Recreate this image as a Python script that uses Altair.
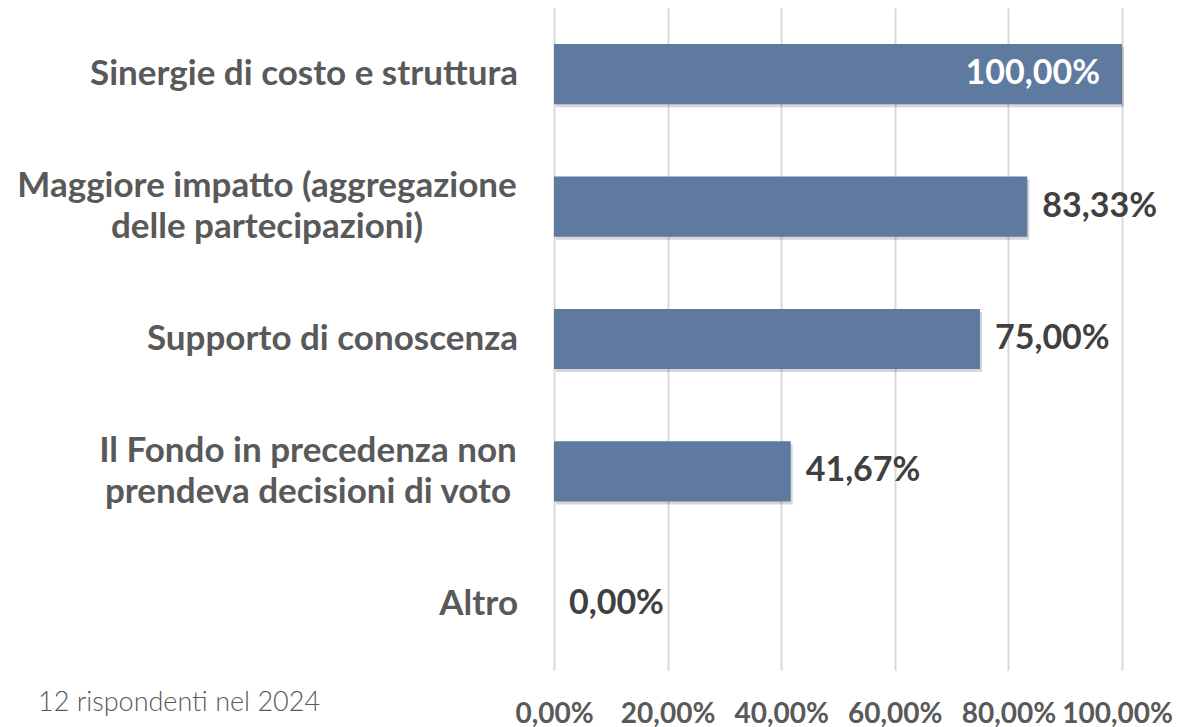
import altair as alt
import pandas as pd

categories = [
    "Sinergie di costo e struttura",
    "Maggiore impatto (aggregazione\ndelle partecipazioni)",
    "Supporto di conoscenza",
    "Il Fondo in precedenza non\nprendeva decisioni di voto",
    "Altro",
]
values = [100.0, 83.33, 75.0, 41.67, 0.0]
value_labels = ["100,00%", "83,33%", "75,00%", "41,67%", "0,00%"]
tick_values = [0, 20, 40, 60, 80, 100]
tick_labels = ["0,00%", "20,00%", "40,00%", "60,00%", "80,00%", "100,00%"]
footnote = "12 rispondenti nel 2024"

df = pd.DataFrame({
    "cat": categories,
    "val": values,
    "lab": value_labels,
    "inside": [v >= 95 for v in values],
    "multi": ["\n" in c for c in categories],
})

FONT = "Lato"
BAR = "#5e7a9f"

label_expr = "[" + ",".join(f"'{t}'" for t in tick_labels) + "][indexof([" + ",".join(str(v) for v in tick_values) + "], datum.value)]"

x = alt.X("val:Q", scale=alt.Scale(domain=[0, 100]),
          axis=alt.Axis(values=tick_values, labelExpr=label_expr, title=None,
                        grid=True, gridColor="#d9d9d9", gridWidth=2,
                        domain=False, ticks=False, tickSize=0,
                        labelFont=FONT, labelFontSize=28, labelFontWeight="bold",
                        labelColor="#595959", labelPadding=30,
                        labelOffset={"condition": {"test": "datum.value == 100", "value": -5}, "value": 0},
                        labelFlush=False, labelOverlap=False))
ycat = alt.Y("cat:N", sort=categories,
             scale=alt.Scale(paddingInner=0.545, paddingOuter=0.2725),
             axis=None)

base = alt.Chart(df)

shadow = base.transform_filter("datum.val > 0").mark_bar(
    color="#000000", opacity=0.16, xOffset=2, yOffset=3).encode(x=x, y=ycat)
bars = base.mark_bar(color=BAR).encode(x=x, y=ycat)

out_lab = base.transform_filter("!datum.inside").mark_text(
    align="left", baseline="middle", dx=15, font=FONT, fontSize=34,
    fontWeight="bold", color="#404040").encode(x="val:Q", y=ycat, text="lab:N")
in_lab = base.transform_filter("datum.inside").mark_text(
    align="right", baseline="middle", dx=-22, font=FONT, fontSize=34,
    fontWeight="bold", color="#ffffff").encode(x="val:Q", y=ycat, text="lab:N")

cat_style = dict(baseline="middle", lineBreak="\n", lineHeight=41,
                 font=FONT, fontSize=35, fontWeight="bold", color="#595959")

cat_single = base.transform_filter("!datum.multi").mark_text(
    align="right", **cat_style).encode(x=alt.value(-36), y=ycat, text="cat:N")

# two-line labels: block right-aligned, lines centred within the block
cat_multi1 = base.transform_filter(alt.datum.cat == categories[1]).mark_text(
    align="center", dy=-20.5, **cat_style).encode(x=alt.value(-287), y=ycat, text="cat:N")
cat_multi2 = base.transform_filter(alt.datum.cat == categories[3]).mark_text(
    align="center", dy=-20.5, **cat_style).encode(x=alt.value(-246), y=ycat, text="cat:N")

foot = alt.Chart(pd.DataFrame({"t": [footnote]})).mark_text(
    align="left", baseline="middle", font=FONT, fontSize=27, fontWeight=300,
    color="#595959").encode(x=alt.value(-516), y=alt.value(695), text="t:N")

chart = alt.layer(shadow, bars, out_lab, in_lab, cat_single, cat_multi1, cat_multi2, foot).properties(
    width=568, height=662,
    autosize=alt.AutoSizeParams(type="none"),
    padding={"left": 546, "top": 0, "right": 51, "bottom": 57},
).configure_view(stroke=None)

chart.save("out.html", embed_options={"renderer": "svg", "actions": False})
